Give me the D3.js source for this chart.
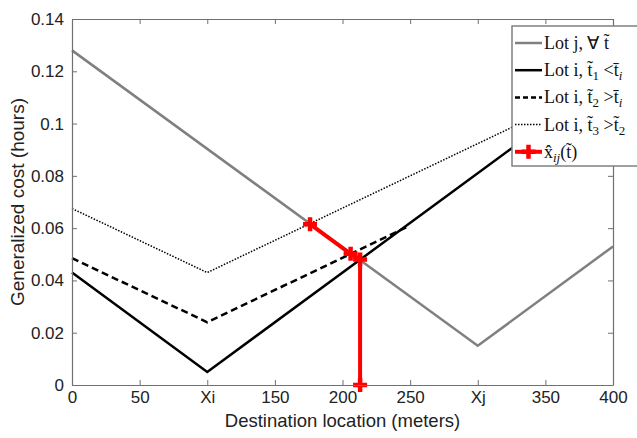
<!DOCTYPE html>
<html>
<head>
<meta charset="utf-8">
<script src="https://cdn.jsdelivr.net/npm/d3@7"></script>
<style>
  body { margin: 0; background: #fff; }
  text { font-family: "Liberation Sans", Arial, sans-serif; fill: #222; }
  .serif { font-family: "Liberation Serif", "Times New Roman", serif; }
</style>
</head>
<body>
<svg id="chart"></svg>
<script>
// Chart size
const width = 637;
const height = 438;

// Axis ticks
const xTickValues = [0, 50, 100, 150, 200, 250, 300, 350, 400];
const xTickLabels = ['0', '50', 'Xi', '150', '200', '250', 'Xj', '350', '400'];
const yTickValues = [0, 0.02, 0.04, 0.06, 0.08, 0.1, 0.12, 0.14];

// Series values (location in meters, cost in hours)
const lotJX = [0, 300, 400];
const lotJY = [0.128, 0.015, 0.053];
const lotI1X = [0, 100, 400];
const lotI1Y = [0.043, 0.005, 0.119];
const lotI2X = [0, 100, 248];
const lotI2Y = [0.0485, 0.024, 0.0605];
const lotI3X = [0, 100, 400];
const lotI3Y = [0.0675, 0.043, 0.117];
const xHatX = [176, 206, 213, 213];
const xHatY = [0.0615, 0.0502, 0.048, 0];

const zip = (xs, ys) => xs.map((x, i) => [x, ys[i]]);

// Plot box
const plotLeft = 72, plotRight = 613, plotTop = 19, plotBottom = 385;

const x = d3.scaleLinear().domain([0, 400]).range([plotLeft, plotRight]);
const y = d3.scaleLinear().domain([0, 0.14]).range([plotBottom, plotTop]);

const svg = d3.select('#chart')
  .attr('width', width)
  .attr('height', height);

svg.append('rect').attr('width', width).attr('height', height).attr('fill', '#fff');

const line = d3.line().x(d => x(d[0])).y(d => y(d[1]));

// Series lines
const series = [
  { pts: zip(lotJX, lotJY), color: '#808080', w: 2.5, dash: null },
  { pts: zip(lotI3X, lotI3Y), color: '#000', w: 1.5, dash: '1.5,1.5' },
  { pts: zip(lotI2X, lotI2Y), color: '#000', w: 2.5, dash: '7,4' },
  { pts: zip(lotI1X, lotI1Y), color: '#000', w: 2.5, dash: null }
];

svg.selectAll('path.series')
  .data(series)
  .enter()
  .append('path')
  .attr('class', 'series')
  .attr('d', d => line(d.pts))
  .attr('fill', 'none')
  .attr('stroke', d => d.color)
  .attr('stroke-width', d => d.w)
  .attr('stroke-dasharray', d => d.dash);

// Red path with plus markers
const hat = zip(xHatX, xHatY);
svg.append('path')
  .attr('d', line(hat))
  .attr('fill', 'none')
  .attr('stroke', '#f00')
  .attr('stroke-width', 4);

const plus = 'M-7,0H7M0,-7V7';
svg.selectAll('path.mark')
  .data(hat)
  .enter()
  .append('path')
  .attr('class', 'mark')
  .attr('transform', d => `translate(${x(d[0])},${y(d[1])})`)
  .attr('d', plus)
  .attr('stroke', '#f00')
  .attr('stroke-width', 4.5);

// Axes (MATLAB style: box with inward ticks)
const axisColor = '#707070';
const fmtX = (d, i) => xTickLabels[i];

const gBottom = svg.append('g').attr('transform', `translate(0,${plotBottom})`)
  .call(d3.axisBottom(x).tickValues(xTickValues).tickFormat(fmtX).tickSizeInner(-5).tickSizeOuter(0).tickPadding(6));
const gTop = svg.append('g').attr('transform', `translate(0,${plotTop})`)
  .call(d3.axisTop(x).tickValues(xTickValues).tickFormat('').tickSizeInner(-5).tickSizeOuter(0));
const gLeft = svg.append('g').attr('transform', `translate(${plotLeft},0)`)
  .call(d3.axisLeft(y).tickValues(yTickValues).tickFormat(d => String(d)).tickSizeInner(-5).tickSizeOuter(0).tickPadding(8));
const gRight = svg.append('g').attr('transform', `translate(${plotRight},0)`)
  .call(d3.axisRight(y).tickValues(yTickValues).tickFormat('').tickSizeInner(-5).tickSizeOuter(0));

[gBottom, gTop, gLeft, gRight].forEach(g => {
  g.select('.domain').attr('stroke', axisColor).attr('stroke-width', 1.2);
  g.selectAll('.tick line').attr('stroke', axisColor);
  g.selectAll('.tick text')
    .attr('fill', '#222')
    .style('font-family', '"Liberation Sans", Arial, sans-serif')
    .style('font-size', '17px');
});

// Axis titles
svg.append('text')
  .attr('x', (plotLeft + plotRight) / 2)
  .attr('y', 427)
  .attr('text-anchor', 'middle')
  .style('font-size', '18.5px')
  .text('Destination location (meters)');

svg.append('text')
  .attr('transform', `translate(24,${(plotTop + plotBottom) / 2}) rotate(-90)`)
  .attr('text-anchor', 'middle')
  .style('font-size', '19px')
  .text('Generalized cost (hours)');

// Legend
const legend = svg.append('g');
legend.append('rect')
  .attr('x', 512).attr('y', 26)
  .attr('width', 150).attr('height', 140)
  .attr('fill', '#fff')
  .attr('stroke', '#808080')
  .attr('stroke-width', 1.5);

const legendRows = [
  { color: '#808080', w: 2.5, dash: null },
  { color: '#000', w: 2.5, dash: null },
  { color: '#000', w: 2.5, dash: '5,3' },
  { color: '#000', w: 1.5, dash: '1.5,1.5' },
  { color: '#f00', w: 4, dash: null }
];
const rowY = i => 43 + i * 27.2;

legend.selectAll('line.key')
  .data(legendRows)
  .enter()
  .append('line')
  .attr('class', 'key')
  .attr('x1', 515).attr('x2', 542)
  .attr('y1', (d, i) => rowY(i)).attr('y2', (d, i) => rowY(i))
  .attr('stroke', d => d.color)
  .attr('stroke-width', d => d.w)
  .attr('stroke-dasharray', d => d.dash);

legend.append('path')
  .attr('transform', `translate(528.5,${rowY(4)})`)
  .attr('d', plus)
  .attr('stroke', '#f00')
  .attr('stroke-width', 4.5);

// Legend labels: pieces of [text, sub?, italic?]
const legendText = [
  [['Lot j, \u2200 t\u0303']],
  [['Lot i, t\u0303'], ['1', 'sub'], [' <t\u0304'], ['i', 'sub', 'it']],
  [['Lot i, t\u0303'], ['2', 'sub'], [' >t\u0304'], ['i', 'sub', 'it']],
  [['Lot i, t\u0303'], ['3', 'sub'], [' >t\u0303'], ['2', 'sub']],
  [['x\u0302'], ['ij', 'sub', 'it'], ['(t\u0303)']]
];

legendText.forEach((pieces, i) => {
  const t = legend.append('text')
    .attr('class', 'serif')
    .attr('x', 544)
    .attr('y', rowY(i) + 6)
    .style('font-size', '18px')
    .style('fill', '#111');
  let inSub = false;
  pieces.forEach(p => {
    const s = t.append('tspan').text(p[0]);
    if (p[1] === 'sub') {
      s.style('font-size', '13px');
      if (!inSub) s.attr('dy', 4);
      inSub = true;
    } else if (inSub) {
      s.attr('dy', -4);
      inSub = false;
    }
    if (p[2] === 'it') s.style('font-style', 'italic');
  });
});
</script>
</body>
</html>
